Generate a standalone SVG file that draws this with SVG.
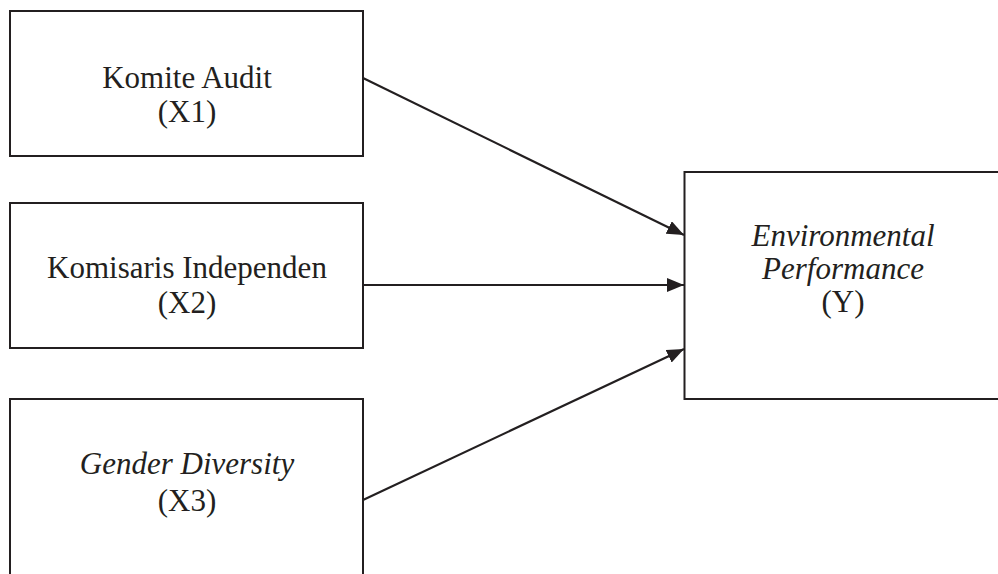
<svg xmlns="http://www.w3.org/2000/svg" width="998" height="574" viewBox="0 0 998 574">
<defs>
<style>
.box{fill:#fff;stroke:#231f20;stroke-width:2}
.t{font-family:"Liberation Serif","Times New Roman",serif;font-size:31px;fill:#231f20;text-anchor:middle}
.i{font-style:italic}
.c{stroke:#231f20;stroke-width:2.2;fill:none}
</style>
<marker id="ah" markerUnits="userSpaceOnUse" markerWidth="18" markerHeight="14" refX="17" refY="7" orient="auto">
<path d="M0,0 L17,7 L0,14 Z" fill="#231f20"/>
</marker>
</defs>
<rect width="998" height="574" fill="#fff"/>
<g id="x1">
<rect class="box" x="10" y="11" width="353" height="145"/>
<text class="t" x="187" y="88">Komite Audit</text>
<text class="t" x="187" y="122">(X1)</text>
</g>
<g id="x2">
<rect class="box" x="10" y="203" width="353" height="145"/>
<text class="t" x="187" y="278">Komisaris Independen</text>
<text class="t" x="187" y="313">(X2)</text>
</g>
<g id="x3">
<rect class="box" x="10" y="399" width="353" height="190"/>
<text class="t i" x="187" y="474">Gender Diversity</text>
<text class="t" x="187" y="511">(X3)</text>
</g>
<g id="y">
<rect class="box" x="684.5" y="172" width="330" height="227"/>
<text class="t i" x="843" y="246">Environmental</text>
<text class="t i" x="843" y="279">Performance</text>
<text class="t" x="843" y="312">(Y)</text>
</g>
<g id="connectors">
<line class="c" x1="363" y1="78" x2="684" y2="235" marker-end="url(#ah)"/>
<line class="c" x1="363" y1="285" x2="684" y2="285" marker-end="url(#ah)"/>
<line class="c" x1="363" y1="500" x2="684" y2="349" marker-end="url(#ah)"/>
</g>
</svg>
